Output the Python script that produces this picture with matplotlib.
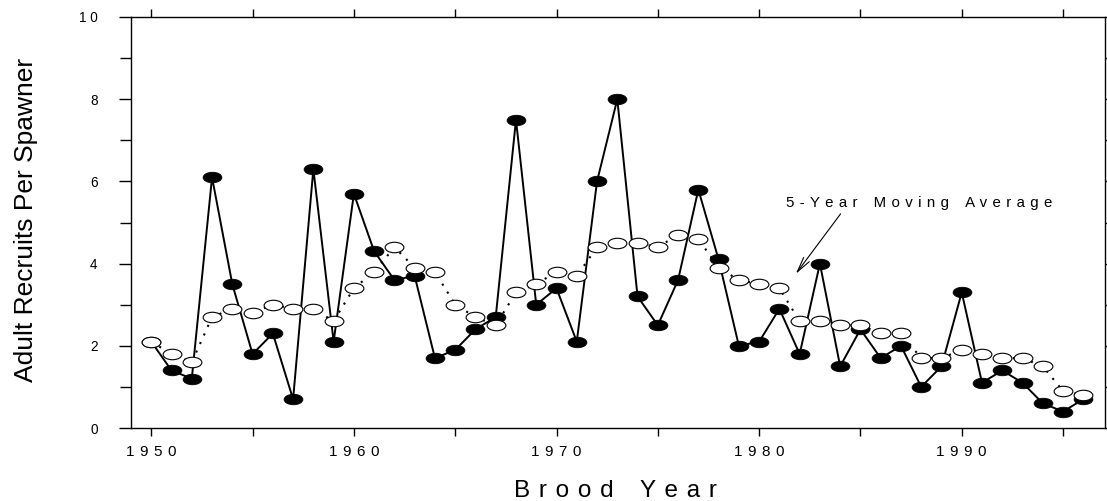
'''
================================================================================
Brood-year recruitment plot.
Adult recruits per spawner by brood year, with the 5-year moving average.
================================================================================
'''

# ================ PyLib imports ================
import numpy as np
import matplotlib
matplotlib.use("Agg")
import matplotlib.pyplot as plt
from matplotlib.path import Path
from matplotlib.transforms import Affine2D
from matplotlib.ticker import MultipleLocator, FuncFormatter

# ================ Data ================
years = list(range(1950, 1997))

recruits = [
    2.1, 1.4, 1.2, 6.1, 3.5, 1.8, 2.3, 0.7, 6.3, 2.1,
    5.7, 4.3, 3.6, 3.7, 1.7, 1.9, 2.4, 2.7, 7.5, 3.0,
    3.4, 2.1, 6.0, 8.0, 3.2, 2.5, 3.6, 5.8, 4.1, 2.0,
    2.1, 2.9, 1.8, 4.0, 1.5, 2.4, 1.7, 2.0, 1.0, 1.5,
    3.3, 1.1, 1.4, 1.1, 0.6, 0.4, 0.7,
]

moving_avg = [
    2.1, 1.8, 1.6, 2.7, 2.9, 2.8, 3.0, 2.9, 2.9, 2.6,
    3.4, 3.8, 4.4, 3.9, 3.8, 3.0, 2.7, 2.5, 3.3, 3.5,
    3.8, 3.7, 4.4, 4.5, 4.5, 4.4, 4.7, 4.6, 3.9, 3.6,
    3.5, 3.4, 2.6, 2.6, 2.5, 2.5, 2.3, 2.3, 1.7, 1.7,
    1.9, 1.8, 1.7, 1.7, 1.5, 0.9, 0.8,
]

annot_text  = "5-Year Moving Average"
x_label     = "Brood Year"
y_label     = "Adult Recruits Per Spawner"

# ================ Styling ================
plt.rcParams["font.family"] = ["Liberation Sans", "DejaVu Sans"]

_ELLIPSE = Path.unit_circle().transformed(Affine2D().scale(1.0, 0.56))
_GAP     = " \u200a"


def spaced(s: str, gap: str = _GAP, word_gap: str = _GAP * 3) -> str:
    '''Letter-spaced text, like the old plotting package did.'''
    return word_gap.join(gap.join(w) for w in s.split(" "))


# ================ Figure ================
fig = plt.figure(figsize=(11.07, 5.01), dpi=100)
ax = fig.add_axes([131 / 1107, 1 - 428 / 501, 974 / 1107, 411 / 501])

ax.plot(years, recruits, color="black", linewidth=1.4,
        marker=_ELLIPSE, markersize=13.5, markerfacecolor="black",
        markeredgecolor="black", markeredgewidth=0.6, zorder=2)

ax.plot(years, moving_avg, color="black", linewidth=1.5,
        linestyle=(0, (1, 3.5)),
        marker=_ELLIPSE, markersize=13.5, markerfacecolor="white",
        markeredgecolor="black", markeredgewidth=0.8, zorder=3)

# -------- annotation --------
ax.annotate("", xy=(1981.81, 3.75), xytext=(1984.02, 5.21),
            arrowprops=dict(arrowstyle="->,head_length=1.1,head_width=0.25",
                            color="black", linewidth=0.8,
                            shrinkA=0, shrinkB=0))
ax.text(1987.9, 5.37, spaced(annot_text), ha="center", va="baseline",
        fontsize=10.8)

# -------- axes --------
ax.set_xlim(1949, 1997.07)
ax.set_ylim(0, 10)

ax.xaxis.set_major_locator(MultipleLocator(10))
ax.xaxis.set_minor_locator(MultipleLocator(5))
ax.yaxis.set_major_locator(MultipleLocator(2))
ax.yaxis.set_minor_locator(MultipleLocator(1))
ax.xaxis.set_major_formatter(FuncFormatter(lambda v, p: spaced(f"{v:.0f}")))
ax.yaxis.set_major_formatter(FuncFormatter(lambda v, p: spaced(f"{v:.0f}", gap=" ")))

ax.tick_params(axis="x", which="both", direction="out", top=True,
               length=6, width=1.0, labelsize=11, pad=6)
ax.tick_params(axis="y", which="major", direction="out", right=True,
               length=9, width=1.0, labelsize=9.8, pad=15)
ax.tick_params(axis="y", which="minor", direction="out", right=True,
               length=8, width=1.0)

for sp in ax.spines.values():
    sp.set_linewidth(1.0)

fig.text(33 / 1107, 1 - 220 / 501, y_label, rotation=90,
         rotation_mode="anchor", ha="center", va="baseline", fontsize=19)
fig.text(615 / 1107, 1 - 497 / 501, spaced(x_label),
         ha="center", va="baseline", fontsize=17.5)

fig.savefig("out.png", dpi=100)
